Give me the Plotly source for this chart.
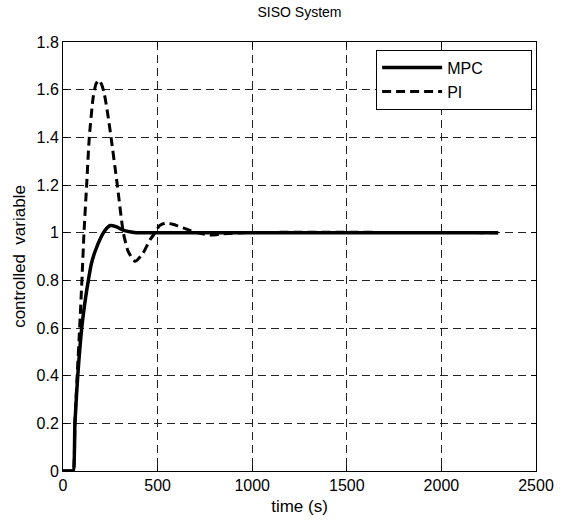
import plotly.graph_objects as go

mpc_t = [0, 50, 55, 63, 78, 99, 120, 134, 150, 169, 200, 222, 250, 280, 320, 360, 390, 500, 1000, 2300]
mpc_y = [0, 0, 0, 0.2, 0.4, 0.6, 0.73, 0.8, 0.87, 0.92, 0.98, 1.01, 1.03, 1.025, 1.01, 1.003, 1.0, 1.0, 1.0, 1.0]

pi_t = [0, 50, 55, 63, 75, 88, 100, 111, 125, 139, 160, 175, 190, 205, 219, 236, 254, 287, 319, 345, 381, 420, 460, 487, 510, 540, 580, 635, 707, 778, 850, 950, 2300]
pi_y = [0, 0, 0, 0.2, 0.4, 0.6, 0.8, 1.0, 1.2, 1.4, 1.57, 1.625, 1.64, 1.62, 1.58, 1.5, 1.4, 1.2, 1.0, 0.92, 0.88, 0.91, 0.97, 1.0, 1.03, 1.04, 1.035, 1.02, 1.0, 0.99, 0.995, 1.0, 1.0]

x_ticks = [0, 500, 1000, 1500, 2000, 2500]
y_ticks = [0, 0.2, 0.4, 0.6, 0.8, 1, 1.2, 1.4, 1.6, 1.8]
y_tick_text = ["0", "0.2", "0.4", "0.6", "0.8", "1", "1.2", "1.4", "1.6", "1.8"]

FONT = "Liberation Sans, Arial, sans-serif"

fig = go.Figure()
fig.add_trace(go.Scatter(x=mpc_t, y=mpc_y, mode="lines", name="MPC\u2003\u2003\u2002\u2009",
                         line=dict(color="black", width=3.5, shape="spline", smoothing=0.6)))
fig.add_trace(go.Scatter(x=pi_t, y=pi_y, mode="lines", name="PI",
                         line=dict(color="black", width=3, dash="9px,5px", shape="spline", smoothing=0.6)))

axis_common = dict(
    showline=True, linecolor="black", linewidth=1, mirror="ticks",
    ticks="inside", ticklen=5, tickcolor="black", automargin=False,
    showgrid=True, gridcolor="#222222", gridwidth=1, griddash="8px,5px",
    zeroline=False, tickfont=dict(family=FONT, size=16, color="black"),
)

fig.update_xaxes(range=[0, 2500], tickvals=x_ticks, **axis_common,
                 title=dict(text="time (s)", font=dict(family=FONT, size=17, color="black"), standoff=6))
fig.update_yaxes(range=[0, 1.8], tickvals=y_ticks, ticktext=y_tick_text, **axis_common,
                 title=dict(text="controlled  variable", font=dict(family=FONT, size=17, color="black"), standoff=6))

fig.update_layout(
    width=561, height=520,
    margin=dict(l=63, r=25, t=42, b=49, autoexpand=False),
    paper_bgcolor="white", plot_bgcolor="white",
    title=dict(text="SISO System", x=(63 + 536) / 2 / 561, xanchor="center",
               y=1 - 12 / 520, yanchor="middle", yref="container",
               font=dict(family=FONT, size=14, color="black")),
    legend=dict(x=0.662, y=0.982, xanchor="left", yanchor="top",
                bgcolor="white", bordercolor="black", borderwidth=1,
                font=dict(family=FONT, size=16, color="black"),
                itemwidth=60, tracegroupgap=0),
    showlegend=True,
)

fig.write_html("out.html")
